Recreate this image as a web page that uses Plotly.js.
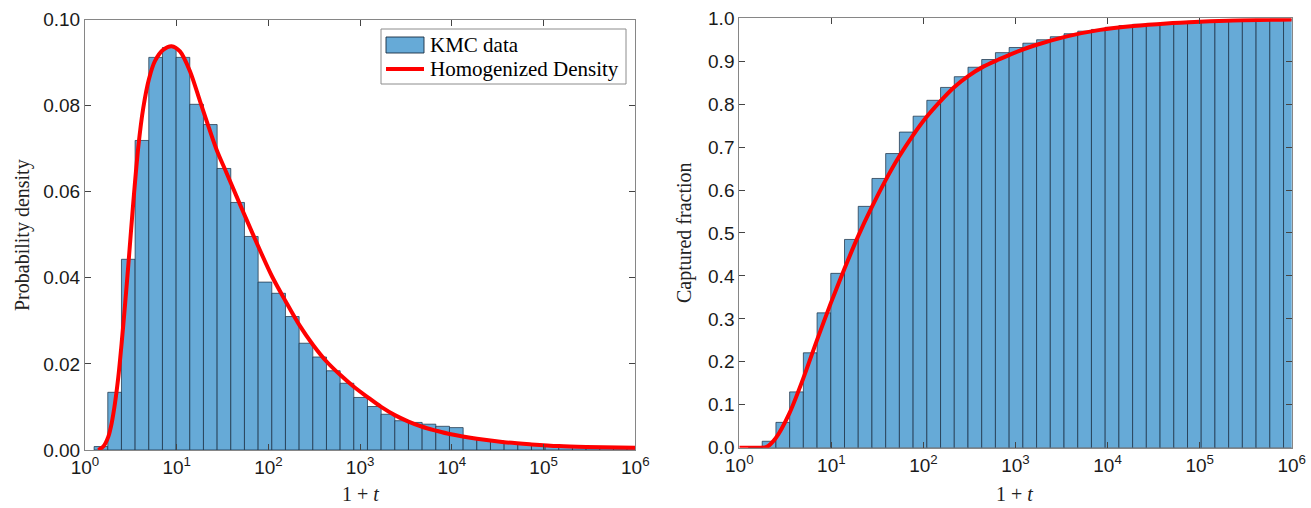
<!DOCTYPE html>
<html>
<head>
<meta charset="utf-8">
<script src="https://cdn.plot.ly/plotly-3.0.1.min.js"></script>
<style>html,body{margin:0;padding:0;background:#fff;}#chart{width:1311px;height:508px;}</style>
</head>
<body>
<div id="chart"></div>
<script>
// Histogram bin left edges, in log10(1 + t)
const binLeftLog10 = [0.100,0.249,0.398,0.547,0.696,0.845,0.994,1.143,1.292,1.441,
  1.590,1.739,1.888,2.037,2.186,2.335,2.484,2.633,2.782,2.931,
  3.080,3.229,3.378,3.527,3.676,3.825,3.974,4.123,4.272,4.421,
  4.570,4.719,4.868,5.017,5.166,5.315,5.464,5.613,5.762,5.911];
const binWidthLog10 = 0.149;

// KMC histogram: probability density (left panel)
const kmcDensity = [0.0008,0.0134,0.0443,0.0719,0.0912,0.0935,0.0912,0.0803,0.0756,0.0654,
  0.0575,0.0496,0.0390,0.0364,0.0310,0.0248,0.0216,0.0184,0.0155,0.0122,
  0.0101,0.0083,0.0068,0.0064,0.0060,0.0055,0.0052,0.0028,0.0024,0.0021,
  0.0016,0.0013,0.0012,0.0009,0.0007,0.0006,0.0005,0.0004,0.0003,0.0003];

// KMC cumulative histogram: captured fraction (right panel)
const kmcCaptured = [0.001,0.015,0.059,0.130,0.221,0.314,0.406,0.485,0.562,0.627,
  0.685,0.735,0.772,0.809,0.839,0.864,0.886,0.904,0.920,0.932,
  0.942,0.950,0.957,0.964,0.970,0.974,0.979,0.983,0.986,0.988,
  0.990,0.991,0.993,0.994,0.995,0.995,0.996,0.997,0.998,0.998];

// Homogenized density curve (left panel)
const densLog10 = [0.145,0.200,0.255,0.291,0.327,0.364,0.400,0.436,0.473,0.527,0.582,0.636,0.698,0.764,0.855,0.945,1.036,1.145,1.255,1.338,1.436,1.545,1.655,1.764,1.891,2.040,2.189,2.338,2.487,2.636,2.785,2.931,3.080,3.229,3.378,3.527,3.676,3.826,3.974,4.273,4.571,4.869,5.167,5.465,6.000];
const densValue = [0,0.0008,0.0031,0.0062,0.0108,0.0170,0.0248,0.0335,0.0430,0.0575,0.0705,0.0795,0.0862,0.0904,0.0930,0.0938,0.0926,0.0880,0.0810,0.0757,0.0697,0.0643,0.0588,0.0534,0.0472,0.0403,0.0345,0.0290,0.0244,0.0205,0.0174,0.0147,0.0123,0.0100,0.0081,0.0066,0.0054,0.0045,0.0037,0.0026,0.0018,0.0013,0.0009,0.0007,0.0005];

// Homogenized cumulative curve (right panel)
const cdfLog10 = [0.000,0.080,0.298,0.395,0.544,0.696,0.845,0.993,1.141,1.290,1.439,1.587,1.736,1.885,2.033,2.180,2.330,2.490,2.655,2.818,2.980,3.196,3.558,3.920,4.280,4.640,5.000,5.360,6.000];
const cdfValue = [0,0,0.002,0.022,0.080,0.162,0.251,0.336,0.416,0.492,0.560,0.622,0.678,0.727,0.770,0.806,0.839,0.866,0.888,0.904,0.919,0.936,0.958,0.973,0.982,0.988,0.992,0.995,0.997];

const decadeTicks = [0,1,2,3,4,5,6];
const decadeLabels = ['10<sup>0</sup>','10<sup>1</sup>','10<sup>2</sup>','10<sup>3</sup>','10<sup>4</sup>','10<sup>5</sup>','10<sup>6</sup>'];
const legendLabels = ['KMC data','Homogenized Density'];

const barColor = 'rgb(102,170,215)';
const barEdge = 'rgba(25,45,65,0.9)';
const red = 'rgb(255,0,0)';
const sans = 'Liberation Sans, Arial, sans-serif';
const serif = 'Liberation Serif, Times New Roman, serif';

const traces = [
  {type:'bar', x:binLeftLog10, y:kmcDensity, width:binWidthLog10, offset:0,
   marker:{color:barColor, line:{color:barEdge, width:0.8}},
   name:legendLabels[0], showlegend:false, xaxis:'x', yaxis:'y'},
  {type:'scatter', mode:'lines', x:densLog10, y:densValue, line:{color:red, width:4, shape:'spline', smoothing:0.8},
   name:legendLabels[1], showlegend:false, xaxis:'x', yaxis:'y', cliponaxis:false},
  {type:'bar', x:binLeftLog10, y:kmcCaptured, width:binWidthLog10, offset:0,
   marker:{color:barColor, line:{color:barEdge, width:0.8}},
   showlegend:false, xaxis:'x2', yaxis:'y2'},
  {type:'scatter', mode:'lines', x:cdfLog10, y:cdfValue, line:{color:red, width:4, shape:'spline', smoothing:0.8},
   showlegend:false, xaxis:'x2', yaxis:'y2', cliponaxis:false}
];

function xAxis(domain, anchor){
  return {domain:domain, anchor:anchor, range:[0,6], tickvals:decadeTicks, ticktext:decadeLabels,
    ticks:'inside', ticklen:6, tickcolor:'#444', tickwidth:1, showline:true, linecolor:'#868686', linewidth:1,
    mirror:'ticks', showgrid:false, zeroline:false, tickfont:{family:sans, size:19, color:'#1a1a1a'},
    layer:'above traces', fixedrange:true};
}
function yAxis(domain, anchor, range, dtick, fmt){
  return {domain:domain, anchor:anchor, range:range, dtick:dtick, tick0:0, tickformat:fmt,
    ticks:'inside', ticklen:6, tickcolor:'#444', tickwidth:1, showline:true, linecolor:'#868686', linewidth:1,
    mirror:'ticks', showgrid:false, zeroline:false, tickfont:{family:sans, size:19, color:'#1a1a1a'},
    layer:'above traces', fixedrange:true};
}

const W = 1311, H = 508;
const px = v => v / W;
const py = v => 1 - v / H;

const layout = {
  width:W, height:H,
  margin:{l:0, r:0, t:0, b:0},
  paper_bgcolor:'#fff', plot_bgcolor:'#fff',
  bargap:0, barmode:'overlay',
  showlegend:false,
  xaxis: xAxis([0.0648,0.4846],'y'),
  yaxis: yAxis([0.1142,0.9616],'x',[0,0.1],0.02,'.2f'),
  xaxis2: xAxis([0.5639,0.9853],'y2'),
  yaxis2: yAxis([0.1187,0.9640],'x2',[0,1],0.1,'.1f'),
  shapes:[
    // legend box
    {type:'rect', xref:'paper', yref:'paper', x0:px(381), x1:px(626), y0:py(29), y1:py(84),
     line:{color:'#8c8c8c', width:1}, fillcolor:'#fff', layer:'above'},
    // legend swatch: histogram patch
    {type:'rect', xref:'paper', yref:'paper', x0:px(386), x1:px(424), y0:py(37), y1:py(53),
     line:{color:barEdge, width:1}, fillcolor:barColor, layer:'above'},
    // legend swatch: red line
    {type:'line', xref:'paper', yref:'paper', x0:px(386), x1:px(424), y0:py(69), y1:py(69),
     line:{color:red, width:4}, layer:'above'}
  ],
  annotations:[
    {text:legendLabels[0], xref:'paper', yref:'paper', x:px(428), y:py(45), xanchor:'left', yanchor:'middle',
     showarrow:false, font:{family:serif, size:21, color:'#000'}},
    {text:legendLabels[1], xref:'paper', yref:'paper', x:px(428), y:py(69), xanchor:'left', yanchor:'middle',
     showarrow:false, font:{family:serif, size:21, color:'#000'}},
    {text:'Probability density', xref:'paper', yref:'paper', x:px(22), y:py(235), textangle:-90,
     showarrow:false, font:{family:serif, size:20, color:'#222'}, xanchor:'center', yanchor:'middle'},
    {text:'Captured fraction', xref:'paper', yref:'paper', x:px(684), y:py(233), textangle:-90,
     showarrow:false, font:{family:serif, size:20, color:'#222'}, xanchor:'center', yanchor:'middle'},
    {text:'1 + <i>t</i>', xref:'paper', yref:'paper', x:px(360), y:py(494),
     showarrow:false, font:{family:serif, size:20, color:'#222'}, xanchor:'center', yanchor:'middle'},
    {text:'1 + <i>t</i>', xref:'paper', yref:'paper', x:px(1015), y:py(494),
     showarrow:false, font:{family:serif, size:20, color:'#222'}, xanchor:'center', yanchor:'middle'}
  ]
};

Plotly.newPlot('chart', traces, layout, {displayModeBar:false, staticPlot:true});
</script>
</body>
</html>
